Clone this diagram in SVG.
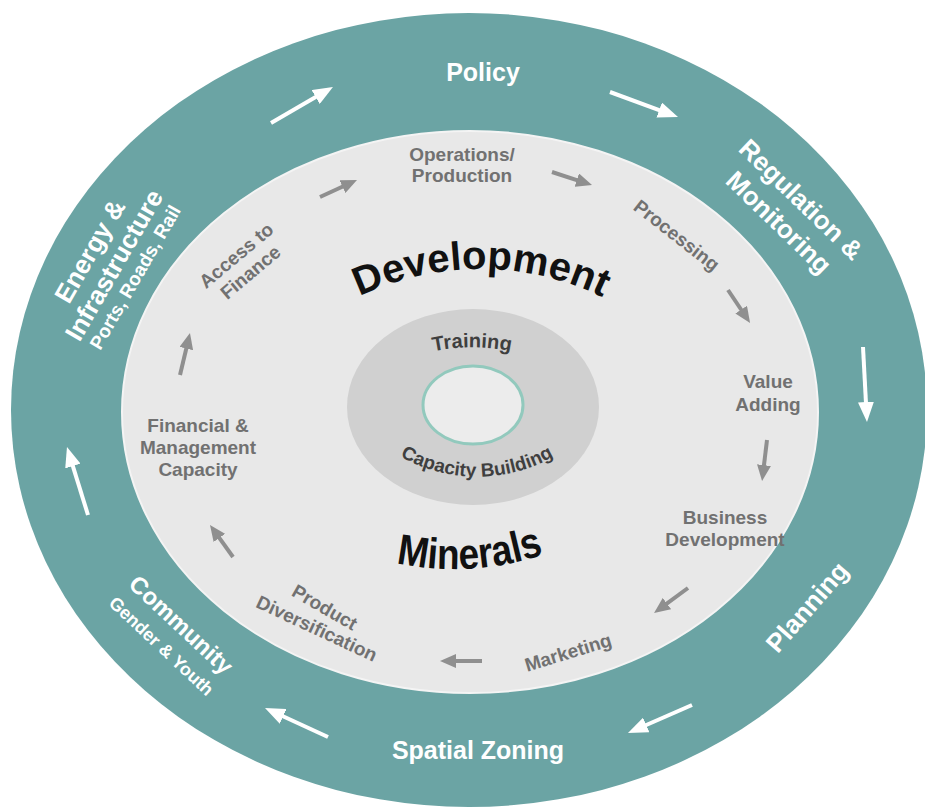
<svg xmlns="http://www.w3.org/2000/svg" width="925" height="807" viewBox="0 0 925 807">
  <style>
    .ob { font-family: "Liberation Sans", Arial, sans-serif; font-weight: bold; fill: #ffffff; text-anchor: middle; }
    .gl { font-family: "Liberation Sans", Arial, sans-serif; font-weight: bold; fill: #717171; font-size: 19px; text-anchor: middle; }
    .dk { font-family: "Liberation Sans", Arial, sans-serif; font-weight: bold; text-anchor: middle; }
    .wl { stroke: #ffffff; stroke-width: 4; fill: none; marker-end: url(#wh); }
    .gc { stroke: #8f8f8f; stroke-width: 4; fill: none; marker-end: url(#gh); }
  </style>
  <defs>
    <marker id="wh" markerUnits="userSpaceOnUse" markerWidth="20" markerHeight="16" viewBox="0 0 20 16" refX="5" refY="8" orient="auto">
      <path d="M0,0 L20,8 L0,16 z" fill="#ffffff"/>
    </marker>
    <marker id="gh" markerUnits="userSpaceOnUse" markerWidth="16" markerHeight="14" viewBox="0 0 16 14" refX="4" refY="7" orient="auto">
      <path d="M0,0 L16,7 L0,14 z" fill="#8f8f8f"/>
    </marker>
    <path id="arcDev" d="M356,298 A280,280 0 0,1 606,299"/>
    <path id="arcMin" d="M392,562 Q470,580 548,553"/>
    <path id="arcTrain" d="M412,357 A190,190 0 0,1 532,357"/>
    <path id="arcCap" d="M390,450 A155,155 0 0,0 564,450"/>
  </defs>

  <rect width="925" height="807" fill="#ffffff"/>

  <!-- outer teal ring -->
  <g id="outer-ring">
    <ellipse cx="469" cy="410" rx="458" ry="397" fill="#6ba4a4"/>
  </g>

  <!-- inner light field -->
  <g id="inner-field">
    <ellipse cx="470" cy="412" rx="348" ry="281" fill="#e8e8e8" stroke="#f4f4f4" stroke-width="2"/>
  </g>

  <!-- centre: training / capacity building -->
  <g id="core">
    <ellipse cx="473" cy="407" rx="126" ry="98" fill="#d0d0d0"/>
    <ellipse cx="473" cy="405" rx="50" ry="39" fill="#ececec" stroke="#92c9bd" stroke-width="3"/>
    <text class="dk" font-size="20" fill="#3f3f3f"><textPath href="#arcTrain" startOffset="50%">Training</textPath></text>
    <text class="dk" font-size="19" fill="#3f3f3f"><textPath href="#arcCap" startOffset="50%">Capacity Building</textPath></text>
  </g>

  <g id="title-development">
    <text class="dk" font-size="40" fill="#111111"><textPath href="#arcDev" startOffset="50%">Development</textPath></text>
  </g>
  <g id="title-minerals">
    <text class="dk" font-size="43" fill="#111111"><textPath href="#arcMin" startOffset="50%" textLength="150" lengthAdjust="spacingAndGlyphs">Minerals</textPath></text>
  </g>

  <!-- outer stages -->
  <g id="policy"><text class="ob" font-size="25" x="483" y="81">Policy</text></g>
  <g id="regulation" transform="translate(790,211) rotate(44)">
    <text class="ob" font-size="26"><tspan x="0" y="-7">Regulation &amp;</tspan><tspan x="0" y="25">Monitoring</tspan></text>
  </g>
  <g id="planning" transform="translate(807,607) rotate(-49)">
    <text class="ob" font-size="26" x="0" y="9">Planning</text>
  </g>
  <g id="spatial-zoning"><text class="ob" font-size="25" x="478" y="759">Spatial Zoning</text></g>
  <g id="community" transform="translate(181,625) rotate(43)">
    <text class="ob" font-size="24" x="0" y="8">Community</text>
    <text class="ob" font-size="18" x="0" y="35">Gender &amp; Youth</text>
  </g>
  <g id="energy" transform="translate(114,265) rotate(-60)">
    <text class="ob" font-size="26" x="0" y="-19">Energy &amp;</text>
    <text class="ob" font-size="26" x="0" y="9">Infrastructure</text>
    <text class="ob" font-size="19" x="0" y="31">Ports, Roads, Rail</text>
  </g>

  <!-- inner stages -->
  <g id="operations"><text class="gl"><tspan x="462" y="161">Operations/</tspan><tspan x="462" y="182">Production</tspan></text></g>
  <g id="processing" transform="translate(677,235) rotate(38)"><text class="gl" x="0" y="7">Processing</text></g>
  <g id="value-adding"><text class="gl"><tspan x="768" y="388">Value</tspan><tspan x="768" y="411">Adding</tspan></text></g>
  <g id="business-development"><text class="gl"><tspan x="725" y="524">Business</tspan><tspan x="725" y="546">Development</tspan></text></g>
  <g id="marketing" transform="translate(568,652) rotate(-17)"><text class="gl" x="0" y="7">Marketing</text></g>
  <g id="product-diversification">
    <text class="gl" transform="translate(325,607) rotate(30)" x="0" y="7">Product</text>
    <text class="gl" transform="translate(317,628) rotate(25)" x="0" y="7">Diversification</text>
  </g>
  <g id="financial-management"><text class="gl"><tspan x="198" y="432">Financial &amp;</tspan><tspan x="198" y="454">Management</tspan><tspan x="198" y="476">Capacity</tspan></text></g>
  <g id="access-finance" transform="translate(236,255) rotate(-40)">
    <text class="gl" x="0" y="7">Access to</text>
    <text class="gl" x="0" y="29">Finance</text>
  </g>

  <!-- connectors -->
  <g id="connectors">
    <line class="wl" x1="271" y1="123" x2="320" y2="94.5"/>
    <line class="wl" x1="610" y1="92" x2="663.9" y2="111.8"/>
    <line class="wl" x1="863" y1="347" x2="866.2" y2="407"/>
    <line class="wl" x1="692" y1="705" x2="641.7" y2="727"/>
    <line class="wl" x1="328" y1="737" x2="278.6" y2="714.3"/>
    <line class="wl" x1="88" y1="515" x2="71.4" y2="461.3"/>

    <line class="gc" x1="320" y1="197" x2="346.1" y2="185"/>
    <line class="gc" x1="552" y1="172" x2="580.6" y2="181.3"/>
    <line class="gc" x1="728" y1="290" x2="743.4" y2="313"/>
    <line class="gc" x1="767" y1="440" x2="763.5" y2="469.1"/>
    <line class="gc" x1="688" y1="588" x2="663.7" y2="605.9"/>
    <line class="gc" x1="482" y1="661" x2="452" y2="661"/>
    <line class="gc" x1="233" y1="557" x2="217" y2="534.7"/>
    <line class="gc" x1="180" y1="375" x2="187.2" y2="344.7"/>
  </g>
</svg>
